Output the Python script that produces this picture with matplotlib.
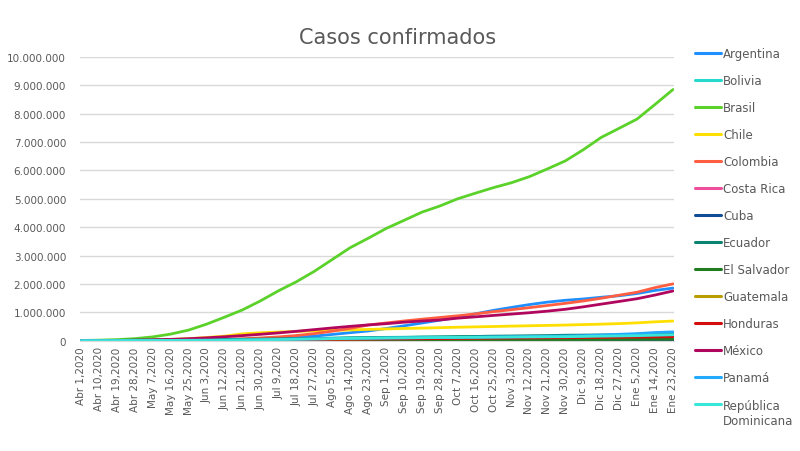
import numpy as np
import matplotlib
matplotlib.use("Agg")
import matplotlib.pyplot as plt
from matplotlib.ticker import FuncFormatter

# one value every 9 days, Abr 1 .. Ene 23
tick_labels = [
    "Abr 1,2020", "Abr 10,2020", "Abr 19,2020", "Abr 28,2020", "May 7,2020",
    "May 16,2020", "May 25,2020", "Jun 3,2020", "Jun 12,2020", "Jun 21,2020",
    "Jun 30,2020", "Jul 9,2020", "Jul 18,2020", "Jul 27,2020", "Ago 5,2020",
    "Ago 14,2020", "Ago 23,2020", "Sep 1,2020", "Sep 10,2020", "Sep 19,2020",
    "Sep 28,2020", "Oct 7,2020", "Oct 16,2020", "Oct 25,2020", "Nov 3,2020",
    "Nov 12,2020", "Nov 21,2020", "Nov 30,2020", "Dic 9,2020", "Dic 18,2020",
    "Dic 27,2020", "Ene 5,2020", "Ene 14,2020", "Ene 23,2020",
]
day_index = [9 * i for i in range(len(tick_labels))]

argentina = [1054, 1894, 2930, 4285, 5611, 7805, 12628, 19268, 27373, 42785,
             64530, 90693, 122524, 162526, 220682, 282437, 342154, 428239, 524198, 622934,
             723132, 824468, 949063, 1069368, 1173533, 1273356, 1359042, 1424533, 1469919, 1531374,
             1583297, 1662730, 1770715, 1853830]
bolivia = [115, 268, 564, 1110, 2081, 3577, 6263, 11638, 17842, 24388,
           33219, 45565, 56853, 71181, 88930, 100836, 108427, 117928, 124205, 129419,
           132618, 135716, 138574, 140445, 142385, 143569, 144594, 145873, 148000, 152000,
           159000, 170000, 190000, 205000]
brasil = [6836, 19638, 38654, 71886, 135106, 233142, 374898, 584016, 828810, 1085038,
          1402041, 1755779, 2074860, 2442375, 2859073, 3275520, 3605783, 3950931, 4238446, 4528240,
          4745464, 5000694, 5200300, 5394128, 5566049, 5781582, 6052786, 6335878, 6728452, 7162978,
          7484285, 7810400, 8324294, 8850000]
chile = [3031, 5972, 9730, 13813, 24581, 43781, 73997, 113628, 160846, 242355,
         279393, 306216, 326539, 347923, 364723, 380034, 397665, 414739, 430471, 444674,
         459671, 475224, 488190, 500542, 514202, 526438, 539143, 551743, 567975, 582972,
         603018, 629176, 664793, 693226]
colombia = [1065, 2223, 3792, 5949, 9456, 14939, 22156, 33354, 46858, 68652,
            97846, 133973, 182140, 248976, 334979, 433805, 551688, 624026, 694664, 758398,
            818203, 877684, 945354, 1025052, 1093256, 1165326, 1240493, 1316806, 1399911, 1496062,
            1603807, 1707966, 1870179, 2002969]
costa_rica = [347, 539, 660, 719, 765, 866, 951, 1228, 1612, 2213,
              3459, 6485, 10551, 15841, 20417, 27000, 33820, 42000, 50000, 60000,
              72000, 84000, 98000, 106000, 118000, 126000, 134000, 138000, 149000, 159000,
              166000, 176000, 185000, 191000]
cuba = [212, 564, 1087, 1437, 1729, 1862, 1963, 2119, 2233, 2319,
        2348, 2413, 2445, 2532, 2829, 3229, 3713, 4114, 4593, 5222,
        5670, 5950, 6255, 6595, 6900, 7300, 7800, 8300, 8900, 9900,
        11300, 13900, 17900, 23000]
ecuador = [2758, 7257, 9468, 24258, 29538, 31881, 37355, 40414, 45778, 50640,
           56432, 65018, 73747, 81161, 87041, 99354, 106797, 113206, 115155, 127065,
           134747, 144452, 150691, 162178, 167147, 174907, 182000, 194000, 199000, 204000,
           211000, 216000, 226000, 236000]
el_salvador = [32, 117, 218, 345, 695, 1265, 1983, 2705, 3433, 4200,
               6173, 8307, 10957, 14630, 17843, 21000, 23964, 26000, 27700, 28600,
               29600, 30500, 31700, 33000, 34700, 36000, 37800, 39600, 41500, 43500,
               45000, 47000, 49500, 52000]
guatemala = [39, 126, 257, 500, 900, 1518, 3424, 6154, 9845, 14819,
             18096, 27619, 36000, 45053, 53509, 62313, 68951, 75644, 80306, 84344,
             89702, 94870, 99765, 104894, 109695, 114000, 118000, 121000, 125000, 130000,
             137000, 142000, 150000, 156000]
honduras = [172, 343, 494, 702, 1178, 2460, 3950, 5880, 8455, 12769,
            19558, 27583, 34611, 39741, 46973, 52000, 56000, 61000, 65000, 70000,
            74000, 80000, 86000, 90000, 95000, 99000, 103000, 107000, 111000, 115000,
            121000, 126000, 133000, 140000]
mexico = [1215, 3441, 8261, 16752, 29616, 47144, 71105, 101238, 139196, 180545,
          226089, 275003, 331298, 390516, 449961, 505751, 556216, 599560, 652364, 694121,
          730317, 794608, 841661, 891160, 938405, 986177, 1041875, 1107071, 1193255, 1289298,
          1383434, 1479835, 1609735, 1752347]
panama = [1075, 2752, 4273, 6021, 7868, 9268, 11183, 14095, 18586, 24274,
          33550, 45633, 56817, 64191, 71418, 79402, 86900, 94914, 101041, 106810,
          112595, 117300, 124107, 131890, 139527, 147098, 155641, 163836, 178696, 199945,
          226225, 250786, 288000, 312000]
rep_dominicana = [1109, 2349, 4680, 6652, 9095, 11739, 14801, 17572, 21437, 26677,
                  33387, 41915, 50113, 60896, 73167, 83349, 90561, 97026, 102651, 106737,
                  112728, 116987, 120922, 125227, 128742, 133000, 138000, 142000, 150000, 160000,
                  168000, 178000, 193000, 210000]

series = [
    ("Argentina", argentina, "#1f8fff"),
    ("Bolivia", bolivia, "#26d9cc"),
    ("Brasil", brasil, "#5bd22a"),
    ("Chile", chile, "#ffdf00"),
    ("Colombia", colombia, "#ff5e40"),
    ("Costa Rica", costa_rica, "#ef4e9d"),
    ("Cuba", cuba, "#114d96"),
    ("Ecuador", ecuador, "#0b8371"),
    ("El Salvador", el_salvador, "#1f7d1f"),
    ("Guatemala", guatemala, "#b99c00"),
    ("Honduras", honduras, "#d40d0d"),
    ("México", mexico, "#b1065d"),
    ("Panamá", panama, "#22aaff"),
    ("República", rep_dominicana, "#3ae6d8"),
]

TEXT = "#595959"

fig = plt.figure(figsize=(8, 4.52), dpi=100)
ax = fig.add_axes([0.1, 0.244, 0.7425, 0.628])

for name, values, color in series:
    ax.plot(day_index, values, color=color, lw=2, label=name, solid_capstyle="round")

ax.set_xlim(-0.5, day_index[-1] + 0.5)
ax.set_ylim(0, 10_000_000)
ax.set_yticks(np.arange(0, 10_000_001, 1_000_000))
ax.yaxis.set_major_formatter(FuncFormatter(lambda v, _: f"{int(v):,}".replace(",", ".")))
ax.set_xticks(day_index)
ax.set_xticklabels(tick_labels, rotation=90)
ax.tick_params(axis="both", length=0, colors=TEXT, labelsize=7.5)
ax.tick_params(axis="y", pad=10)
ax.tick_params(axis="x", pad=4)
ax.grid(axis="y", color="#d9d9d9", lw=1)
ax.set_axisbelow(True)
for side in ["top", "right", "left"]:
    ax.spines[side].set_visible(False)
ax.spines["bottom"].set_color("#d9d9d9")

fig.text(0.4975, 0.916, "Casos confirmados", ha="center", va="center",
         fontsize=15, color=TEXT)

leg = fig.legend(loc="upper left", bbox_to_anchor=(0.869, 0.894), frameon=False,
                 fontsize=8.5, handlelength=2.2, handletextpad=0.15,
                 labelspacing=1.19, borderpad=0, borderaxespad=0)
for t in leg.get_texts():
    t.set_color(TEXT)
for h in leg.get_lines():
    h.set_linewidth(2.2)

# second line of the last legend label, under "República"
fig.canvas.draw()
last = leg.get_texts()[-1].get_window_extent()
x0, y0 = fig.transFigure.inverted().transform((last.x0, last.y0))
fig.text(x0, y0 - 0.006, "Dominicana", ha="left", va="top", fontsize=8.5, color=TEXT)

fig.savefig("out.png", dpi=100, facecolor="white")
